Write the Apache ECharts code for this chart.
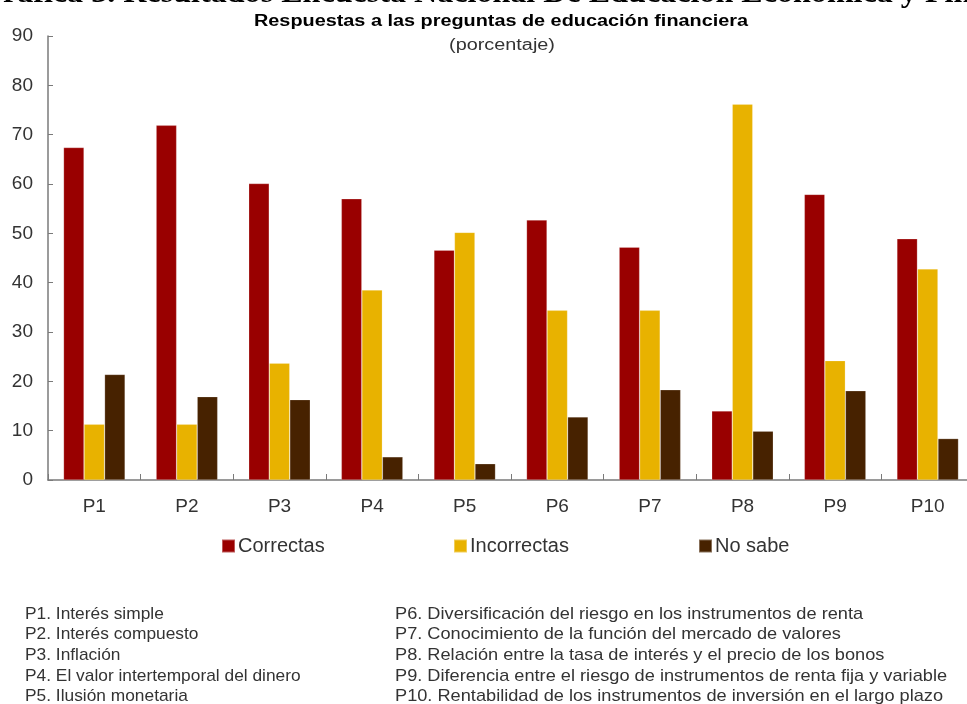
<!DOCTYPE html>
<html>
<head>
<meta charset="utf-8">
<script src="https://cdn.jsdelivr.net/npm/echarts@6/dist/echarts.min.js"></script>
<style>
  html, body { margin: 0; padding: 0; background: #fff; }
  #chart { width: 967px; height: 704px; }
</style>
</head>
<body>
<div id="chart"></div>
<script>
// Question codes on the category axis
const categories = ['P1', 'P2', 'P3', 'P4', 'P5', 'P6', 'P7', 'P8', 'P9', 'P10'];

// Share of respondents by type of answer (percent)
const correctas   = [67.4, 71.9, 60.1, 57.0, 46.6, 52.7, 47.2, 14.0, 57.9, 48.9];
const incorrectas = [11.3, 11.3, 23.7, 38.5, 50.2, 34.4, 34.4, 76.2, 24.2, 42.8];
const noSabe      = [21.4, 16.9, 16.3,  4.7,  3.3, 12.8, 18.3,  9.9, 18.1,  8.4];

const seriesNames = ['Correctas', 'Incorrectas', 'No sabe'];
const yTicks = { min: 0, max: 90, interval: 10 };

// Question descriptions listed under the chart
const notesLeft = [
  'P1. Interés simple',
  'P2. Interés compuesto',
  'P3. Inflación',
  'P4. El valor intertemporal del dinero',
  'P5. Ilusión monetaria'
];
const notesRight = [
  'P6. Diversificación del riesgo en los instrumentos de renta',
  'P7. Conocimiento de la función del mercado de valores',
  'P8. Relación entre la tasa de interés y el precio de los bonos',
  'P9. Diferencia entre el riesgo de instrumentos de renta fija y variable',
  'P10. Rentabilidad de los instrumentos de inversión en el largo plazo'
];

const heading = 'Gráfica 3. Resultados Encuesta Nacional De Educación Económica y Financiera';
const chartTitle = 'Respuestas a las preguntas de educación financiera';
const chartSubtitle = '(porcentaje)';

const colors = ['#990000', '#E8B200', '#472200'];
const sans = 'Liberation Sans, Arial, sans-serif';

const chart = echarts.init(document.getElementById('chart'), null, { renderer: 'canvas' });

// Footnote lines, drawn slightly widened like the rest of the annotation text
const noteElements = [];
const lineStep = 20.7;
function noteLine(t, x, i, sx) {
  return {
    type: 'text', x: x, y: 614 + i * lineStep, scaleX: sx,
    style: { text: t, font: '17px ' + sans, fill: '#333', textVerticalAlign: 'middle', verticalAlign: 'middle' }
  };
}
notesLeft.forEach((t, i) => noteElements.push(noteLine(t, 25, i, 1.02)));
notesRight.forEach((t, i) => noteElements.push(noteLine(t, 395, i, 1.07)));

const legendLefts = [216, 448, 693];

chart.setOption({
  animation: false,
  color: colors,
  textStyle: { fontFamily: sans },
  grid: { left: 48, width: 926, top: 36, bottom: 224, containLabel: false, outerBoundsMode: 'none' },
  legend: seriesNames.map((n, i) => ({
    data: [n],
    left: legendLefts[i],
    top: 531,
    itemWidth: 13,
    itemHeight: 13,
    itemGap: 6,
    icon: 'rect',
    textStyle: { fontSize: 20, color: '#333', padding: [0, 0, 0, -2] }
  })),
  xAxis: {
    type: 'category',
    data: categories,
    boundaryGap: true,
    axisLine: { lineStyle: { color: '#7a7a7a', width: 1.5 } },
    axisTick: { show: true, inside: true, length: 6, alignWithLabel: false, lineStyle: { color: '#7a7a7a' } },
    axisLabel: { fontSize: 19, color: '#333', margin: 17 }
  },
  yAxis: {
    type: 'value',
    min: yTicks.min,
    max: yTicks.max,
    interval: yTicks.interval,
    splitLine: { show: false },
    axisLine: { show: true, lineStyle: { color: '#7a7a7a', width: 1.5 } },
    axisTick: { show: true, inside: true, length: 5, lineStyle: { color: '#7a7a7a' } },
    axisLabel: { fontSize: 19, color: '#333', margin: 15 }
  },
  series: [correctas, incorrectas, noSabe].map((d, i) => ({
    name: seriesNames[i],
    type: 'bar',
    data: d,
    barGap: '0%',
    barCategoryGap: '33.5%',
    itemStyle: { color: colors[i], borderColor: 'rgba(255,255,255,0.35)', borderWidth: 0.6 }
  })),
  graphic: [
    {
      type: 'text', x: -22, y: -21, scaleX: 1.07,
      style: { text: heading, font: 'bold 30px "Liberation Serif", "Times New Roman", serif', fill: '#000' }
    },
    {
      type: 'text', x: 501, y: 22, scaleX: 1.24,
      style: { text: chartTitle, font: 'bold 16px ' + sans, fill: '#000', textAlign: 'center', align: 'center', textVerticalAlign: 'middle', verticalAlign: 'middle' }
    },
    {
      type: 'text', x: 502, y: 46, scaleX: 1.24,
      style: { text: chartSubtitle, font: '16px ' + sans, fill: '#333', textAlign: 'center', align: 'center', textVerticalAlign: 'middle', verticalAlign: 'middle' }
    }
  ].concat(noteElements)
});
</script>
</body>
</html>
